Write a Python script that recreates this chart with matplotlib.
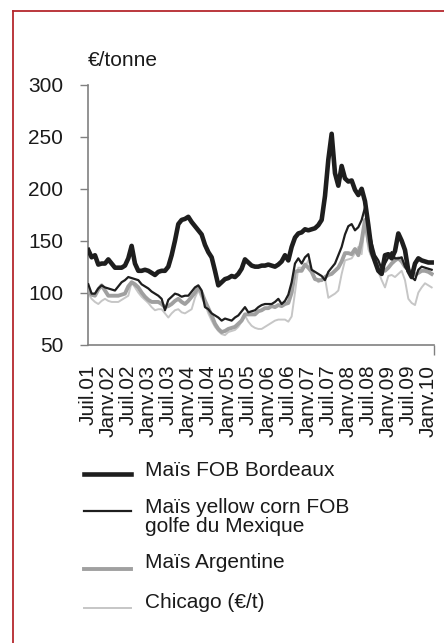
import matplotlib
matplotlib.use("Agg")
import matplotlib.pyplot as plt
from matplotlib.lines import Line2D
import numpy as np

plt.rcParams['font.family'] = ['Liberation Sans', 'DejaVu Sans']

# Monthly series, July 2001 -> February 2010
bordeaux = [141, 134, 136, 127, 128, 128, 132, 128, 124, 124, 124, 126,
            133, 145, 128, 121, 121, 122, 121, 119, 117, 120, 121, 121,
            125, 136, 150, 166, 170, 171, 173, 168, 164, 160, 156, 146,
            139, 134, 121, 107, 110, 113, 114, 116, 115, 118, 123, 132,
            129, 126, 125, 125, 126, 126, 127, 126, 125, 127, 130, 136,
            131, 144, 153, 157, 158, 161, 160, 161, 162, 165, 170, 193,
            228, 253, 215, 203, 222, 210, 207, 208, 199, 194, 200, 188,
            165, 140, 130, 121, 118, 136, 137, 133, 140, 157, 150, 141,
            121, 115, 128, 133, 131, 130, 129, 129]
gulf = [108, 99, 99, 104, 107, 105, 104, 103, 102, 106, 110, 112,
        115, 114, 113, 112, 108, 106, 104, 101, 99, 97, 94, 83,
        93, 96, 99, 98, 96, 97, 97, 101, 105, 107, 102, 86,
        84, 80, 78, 76, 73, 75, 74, 73, 76, 78, 82, 86,
        81, 82, 83, 86, 88, 89, 89, 89, 91, 94, 89, 92,
        98, 110, 128, 133, 128, 134, 137, 122, 120, 118, 116, 112,
        120, 124, 128, 136, 144, 156, 164, 166, 160, 163, 170, 182,
        163, 148, 136, 131, 123, 128, 134, 139, 133, 133, 134, 125,
        120, 115, 112, 122, 125, 124, 123, 122]
argentine = [101, 98, 97, 103, 107, 102, 97, 97, 97, 97, 98, 99,
             106, 110, 108, 105, 100, 96, 93, 91, 91, 91, 89, 86,
             87, 89, 92, 94, 91, 89, 92, 96, 100, 105, 100, 92,
             85, 78, 70, 65, 62, 63, 65, 66, 67, 70, 73, 79,
             79, 79, 79, 82, 83, 85, 85, 87, 86, 88, 87, 89,
             90, 100, 120, 121, 121, 127, 124, 120, 113, 112, 112, 115,
             117, 118, 121, 124, 130, 138, 138, 137, 142, 136, 150, 170,
             150, 137, 131, 126, 123, 121, 124, 128, 131, 133, 130, 125,
             122, 120, 117, 119, 121, 121, 120, 118]
chicago = [99, 94, 91, 89, 92, 94, 92, 91, 91, 91, 93, 95,
           97, 110, 105, 100, 96, 93, 90, 86, 83, 84, 84, 80,
           76, 80, 83, 84, 81, 80, 82, 84, 95, 102, 95, 89,
           80, 73, 67, 63, 60, 59, 62, 63, 64, 67, 72, 78,
           72, 68, 66, 65, 65, 67, 69, 71, 73, 74, 74, 74,
           72, 77, 100, 124, 124, 125, 131, 122, 115, 110, 112, 114,
           95, 97, 99, 102, 118, 131, 132, 133, 138, 144, 137, 168,
           142, 134, 128, 120, 112, 105, 116, 117, 115, 118, 121, 112,
           94, 90, 88, 100, 105, 109, 107, 105]

tick_labels = ['Juil.01', 'Janv.02', 'Juil.02', 'Janv.03', 'Juil.03', 'Janv.04',
               'Juil.04', 'Janv.05', 'Juil.05', 'Janv.06', 'Juil.06', 'Janv.07',
               'Juil.07', 'Janv.08', 'Juil.08', 'Janv.09', 'Juil.09', 'Janv.10']
series_names = ['Maïs FOB Bordeaux', 'Maïs yellow corn FOB\ngolfe du Mexique',
                'Maïs Argentine', 'Chicago (€/t)']
unit_label = '€/tonne'

W, H = 444, 643
fig = plt.figure(figsize=(W / 100, H / 100), dpi=100)

def fx(x):
    return x / W

def fy(y):
    return 1 - y / H

x0, x1, ytop, ybot = 88.3, 434.0, 85.0, 344.5
ax = fig.add_axes([fx(x0), fy(ybot), fx(x1) - fx(x0), fy(ytop) - fy(ybot)])

months = np.arange(len(bordeaux))
c_bdx, c_gulf, c_arg, c_chi = '#1e1e1e', '#1e1e1e', '#a0a0a0', '#c6c6c6'
ax.plot(months, chicago, color=c_chi, lw=1.4, zorder=2)
ax.plot(months, argentine, color=c_arg, lw=2.8, zorder=3)
ax.plot(months, gulf, color=c_gulf, lw=1.6, zorder=4)
ax.plot(months, bordeaux, color=c_bdx, lw=3.3, zorder=5)

xmax = 103.7
ax.set_xlim(0, xmax)
ax.set_ylim(50, 300)
ax.set_yticks([50, 100, 150, 200, 250, 300])
ax.tick_params(axis='y', direction='out', length=6, width=1, color='#808080',
               pad=12, labelsize=15, labelcolor='#1a1a1a')

label_pos = np.arange(0, 6 * len(tick_labels), 6)
ax.set_xticks(label_pos)
ax.set_xticklabels(tick_labels, rotation=90, fontsize=15, color='#1a1a1a')
ax.tick_params(axis='x', which='major', length=0, pad=14.5)
ax.set_xticks(list(label_pos[:-1]) + [xmax], minor=True)
ax.tick_params(axis='x', which='minor', direction='out', length=7, width=1,
               color='#808080')

for s in ['top', 'right']:
    ax.spines[s].set_visible(False)
for s in ['left', 'bottom']:
    ax.spines[s].set_color('#808080')
    ax.spines[s].set_linewidth(1.2)

fig.text(fx(88), fy(60), unit_label, fontsize=15, color='#1a1a1a',
         ha='left', va='center')

# Legend (drawn manually to match layout)
leg_rows = [(474, 470, c_bdx, 3.3), (511, 517, c_gulf, 1.6),
            (569, 563, c_arg, 2.8), (608, 602, c_chi, 1.4)]
for (yl, yt, col, lw), name in zip(leg_rows, series_names):
    fig.add_artist(Line2D([fx(84), fx(131)], [fy(yl), fy(yl)], color=col,
                          lw=lw, transform=fig.transFigure))
    fig.text(fx(145), fy(yt), name, fontsize=15, color='#1a1a1a',
             ha='left', va='center', linespacing=0.95)

# Red frame
red = '#b5272d'
fig.add_artist(Line2D([fx(13), fx(13)], [fy(11), fy(H + 5)], color=red,
                      lw=1.3, transform=fig.transFigure))
fig.add_artist(Line2D([fx(13), fx(W + 5)], [fy(11), fy(11)], color=red,
                      lw=1.3, transform=fig.transFigure))

fig.savefig('out.png', dpi=100, facecolor='white')
